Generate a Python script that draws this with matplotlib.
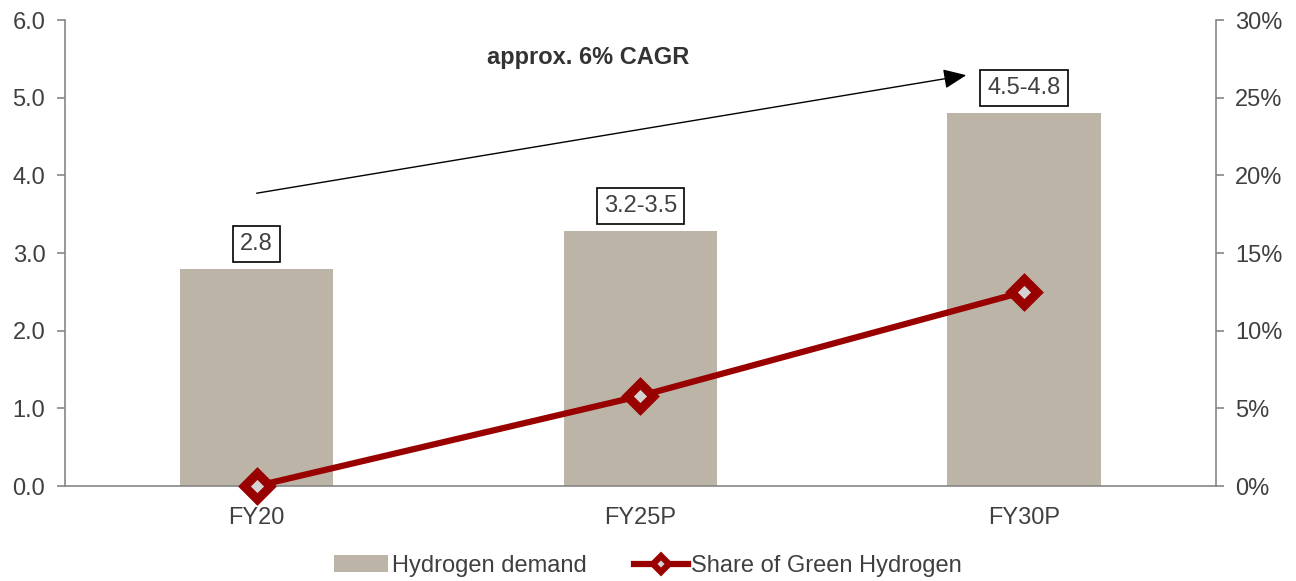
import matplotlib
matplotlib.use("Agg")
import matplotlib.pyplot as plt
from matplotlib.lines import Line2D

categories = ["FY20", "FY25P", "FY30P"]
demand = [2.8, 3.28, 4.8]
demand_labels = ["2.8", "3.2-3.5", "4.5-4.8"]
green_share = [0.0, 5.8, 12.5]
left_ticks = [0, 1, 2, 3, 4, 5, 6]
right_ticks = [0, 5, 10, 15, 20, 25, 30]

plt.rcParams['font.family'] = ['Liberation Sans', 'DejaVu Sans']
txt = '#404040'
spine_c = '#868686'
red = '#990000'

fig = plt.figure(figsize=(12.96, 5.81), dpi=100)
ax = fig.add_axes([0.050, 0.1635, 0.888, 0.802])
ax2 = ax.twinx()

x = list(range(len(categories)))
bars = ax.bar(x, demand, width=0.4, color='#BCB4A7', label='Hydrogen demand', zorder=2)
ax.set_xlim(-0.5, 2.5)
ax.set_ylim(0, 6)
ax.set_yticks(left_ticks)
ax.set_yticklabels([f"{v:.1f}" for v in left_ticks])
ax.set_xticks(x)
ax.set_xticklabels(categories)

ax2.set_ylim(0, 30)
ax2.set_yticks(right_ticks)
ax2.set_yticklabels([f"{v}%" for v in right_ticks])
line, = ax2.plot(x, green_share, color=red, lw=4.5, marker='D', markersize=13,
                 markerfacecolor='#D3D3D3', markeredgecolor=red, markeredgewidth=6.5,
                 solid_joinstyle='round', label='Share of Green Hydrogen', zorder=3,
                 clip_on=False)

for a in (ax, ax2):
    a.spines['top'].set_visible(False)
    a.tick_params(colors=spine_c, labelcolor=txt, labelsize=17, length=6, width=1.2, pad=8)
ax.spines['right'].set_visible(False)
ax2.spines['left'].set_visible(False)
ax.spines['left'].set_color(spine_c)
ax.spines['bottom'].set_color(spine_c)
ax2.spines['right'].set_color(spine_c)
ax2.spines['bottom'].set_visible(False)
ax.spines['left'].set_linewidth(1.2)
ax2.spines['right'].set_linewidth(1.2)
ax.spines['bottom'].set_linewidth(1.2)
ax.tick_params(axis='x', length=0, pad=15)

for xi, v, lab in zip(x, demand, demand_labels):
    ax.annotate(lab, (xi, v), xytext=(0, 10), textcoords='offset points',
                ha='center', va='bottom', fontsize=17, color=txt,
                bbox=dict(boxstyle='square,pad=0.3', fc='white', ec='black', lw=1.2))

ax.annotate('', xy=(1.85, 5.29), xytext=(0.0, 3.77),
            arrowprops=dict(arrowstyle='-|>,head_length=0.7,head_width=0.3', color='black', lw=1.0,
                            shrinkA=0, shrinkB=0, mutation_scale=20))
ax.text(0.865, 5.52, 'approx. 6% CAGR', ha='center', va='center', fontsize=17,
        fontweight='bold', color='#333333')

h1, l1 = ax.get_legend_handles_labels()
line_handle = Line2D([], [], color=red, lw=4.5, marker='D', markersize=8,
                     markerfacecolor='#D3D3D3', markeredgecolor=red, markeredgewidth=4.5)
fig.legend(h1 + [line_handle], l1 + [line.get_label()], loc='center', bbox_to_anchor=(0.5, 0.026),
           ncol=2, frameon=False, fontsize=17, labelcolor=txt, handlelength=2.3,
           columnspacing=2.0, handletextpad=0.15)

fig.savefig('out.png', dpi=100)
